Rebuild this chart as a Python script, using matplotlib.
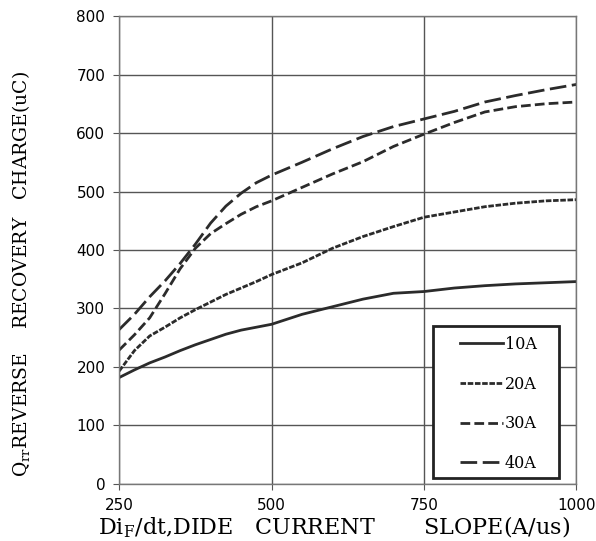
import matplotlib
matplotlib.use('Agg')
from matplotlib import pyplot as plt
from matplotlib.patches import Rectangle

# di/dt values (A/us) and Qrr (uC)
slope = [250, 275, 300, 325, 350, 375, 400, 425, 450, 475, 500,
         550, 600, 650, 700, 750, 800, 850, 900, 950, 1000]
q_10a = [182, 195, 207, 217, 228, 238, 247, 256, 263, 268, 273,
         290, 303, 316, 326, 329, 335, 339, 342, 344, 346]
q_20a = [193, 228, 253, 268, 284, 298, 311, 324, 335, 346, 358,
         378, 403, 423, 440, 456, 465, 474, 480, 484, 486]
q_30a = [229, 255, 284, 325, 368, 403, 428, 445, 461, 474, 484,
         507, 530, 551, 577, 598, 618, 636, 645, 650, 653]
q_40a = [264, 290, 320, 347, 377, 410, 446, 475, 497, 515, 528,
         550, 573, 594, 611, 624, 637, 653, 664, 674, 683]
labels = ['10A', '20A', '30A', '40A']
x_ticks = [250, 500, 750, 1000]
y_ticks = [0, 100, 200, 300, 400, 500, 600, 700, 800]

plt.rcParams['mathtext.fontset'] = 'custom'
plt.rcParams['mathtext.rm'] = 'DejaVu Serif'

fig = plt.figure(figsize=(5.96, 5.41), dpi=100)
ax = fig.add_axes([0.2, 0.1054, 0.767, 0.865])

c = '#2b2b2b'
ax.plot(slope, q_10a, color=c, lw=2, ls='-', label=labels[0])
ax.plot(slope, q_20a, color=c, lw=2, ls=(0, (2, 0.6)), label=labels[1])
ax.plot(slope, q_30a, color=c, lw=2, ls=(0, (3.5, 1.5)), label=labels[2])
ax.plot(slope, q_40a, color=c, lw=2, ls=(0, (6, 2)), label=labels[3])

ax.set_xlim(250, 1000)
ax.set_ylim(0, 800)
ax.set_xticks(x_ticks)
ax.set_yticks(y_ticks)
ax.grid(True, color='#555555', lw=1)
ax.set_axisbelow(True)
ax.tick_params(direction='out', length=4, color='#555555', labelsize=11, pad=6)
for s in ax.spines.values():
    s.set_color('#777777')
    s.set_linewidth(1)

ax.set_xlabel('Di$_{\\mathregular{F}}$/dt,DIDE   CURRENT       SLOPE(A/us)',
              family='DejaVu Serif', fontsize=16)
ax.xaxis.set_label_coords(0.469, -0.066)
ax.set_ylabel('Q$_{\\mathregular{rr}}$REVERSE    RECOVERY   CHARGE(uC)',
              family='DejaVu Serif', fontsize=13.5)
ax.yaxis.set_label_coords(-0.188, 0.449)

# legend box
ax.add_patch(Rectangle((0.687, 0.0128), 0.274, 0.325, transform=ax.transAxes,
                       fc='white', ec='#222222', lw=2, zorder=3))
leg = ax.legend(loc='center', bbox_to_anchor=(0.83, 0.171),
                prop={'family': 'DejaVu Serif', 'size': 11.5},
                handlelength=2.7, handletextpad=0.1, labelspacing=1.42,
                borderpad=0, frameon=False)
leg.set_zorder(5)

fig.savefig('out.png', dpi=100)
